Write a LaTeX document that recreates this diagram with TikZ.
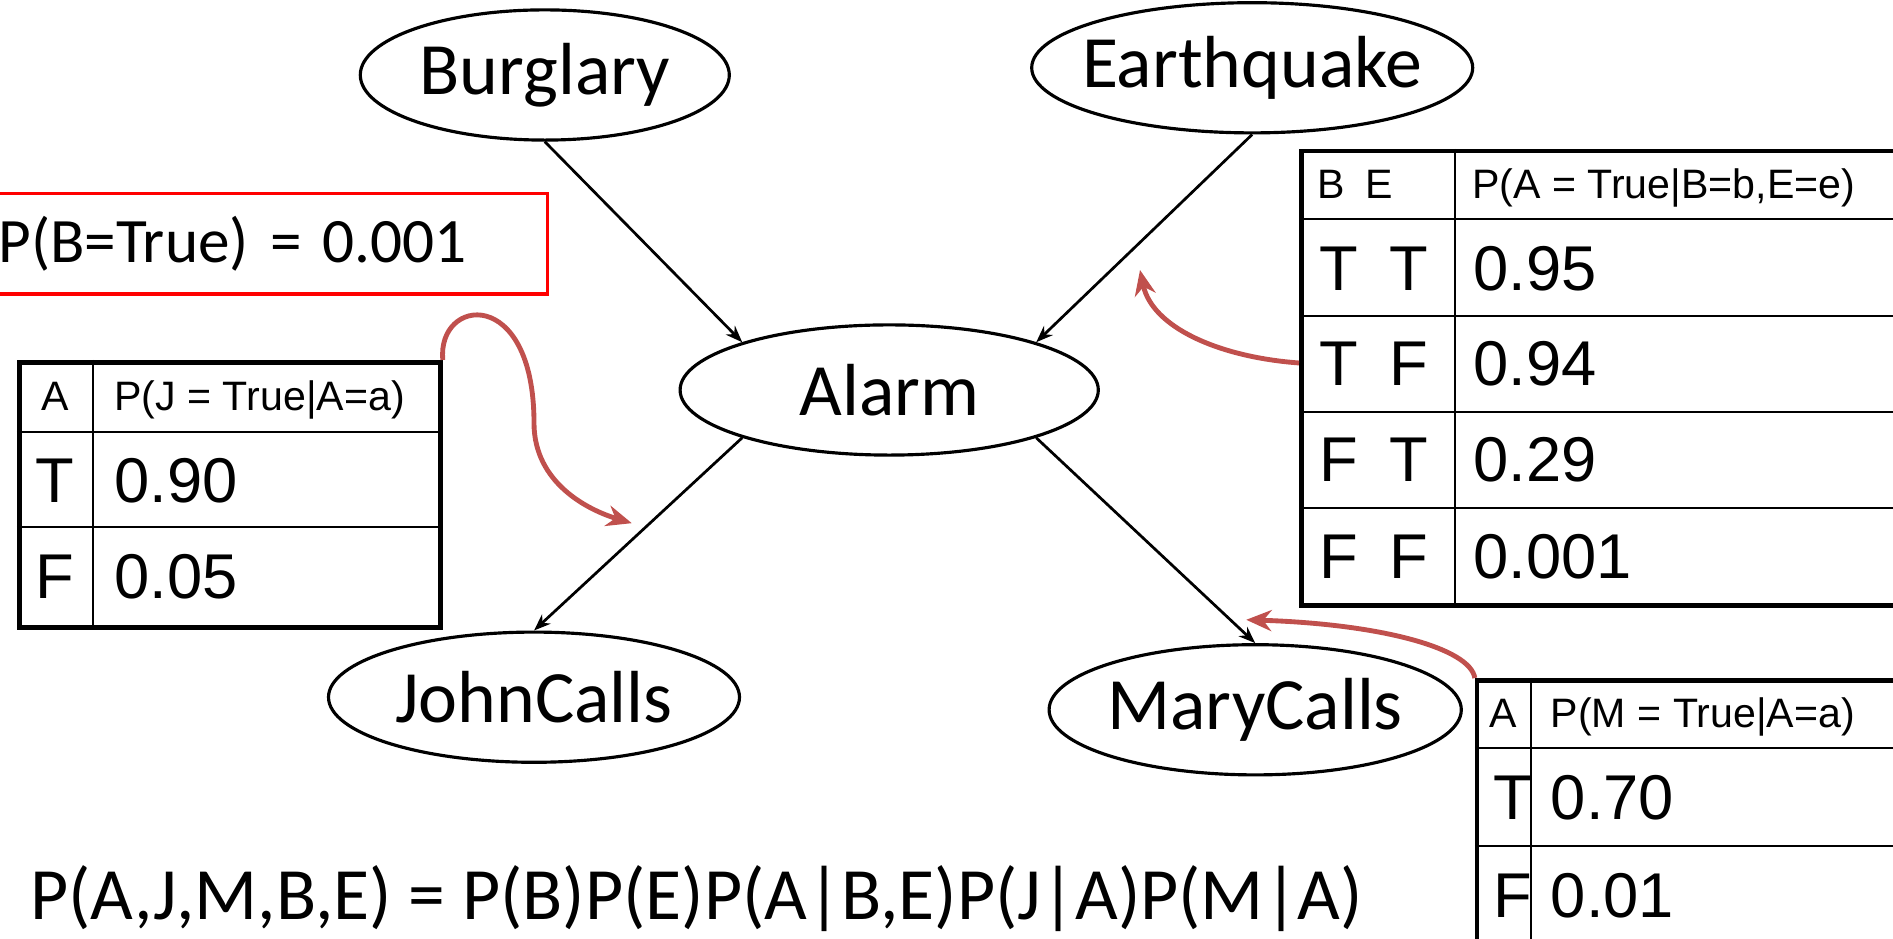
\documentclass[tikz,border=0pt]{standalone}
\usepackage{fontspec}
\setmainfont{Carlito}
\newfontfamily\tblfont{Liberation Sans}
\usepackage{tikz}
\usetikzlibrary{arrows.meta,shapes.geometric}
\definecolor{hintred}{RGB}{192,80,77}
\newcommand{\bnnode}[4]
{
  \node[bnode, minimum width=#4cm] (#1) at (#2) {\makebox[0pt]{#3}};
}
\newcommand{\tbltext}[4]
{
  \node[#3] (#1) at (#2) {#4};
}
\tikzset{
  bnode/.style={ellipse, draw, line width=1.5pt, inner sep=0pt, minimum height=2.17cm,
    font=\fontsize{35}{42}\selectfont},
  tblhead/.style={inner sep=0pt, font=\tblfont\fontsize{19.5}{23}\selectfont},
  tblval/.style={inner sep=0pt, font=\tblfont\fontsize{30}{36}\selectfont},
  tblframe/.style={draw, line width=2.2pt, inner sep=0pt, anchor=north west},
  tblrule/.style={line width=0.9pt},
  edge/.style={->, >={Stealth[length=8pt,width=6pt]}, line width=1.3pt},
  hint/.style={->, >={Stealth[length=12pt,width=10pt]}, hintred, line width=2.3pt}
}
\begin{document}
\begin{tikzpicture}[scale=1]
    \useasboundingbox (0,0) rectangle (31.55,15.65);
    \clip (0,0) rectangle (31.55,15.65);

    % network
    \bnnode{burglary}{9.08,14.4}{Burglary}{6.15}
    \bnnode{earthquake}{20.87,14.52}{Earthquake}{7.35}
    \bnnode{alarm}{14.82,9.15}{Alarm}{6.97}
    \bnnode{johncalls}{8.9,4.03}{JohnCalls}{6.85}
    \bnnode{marycalls}{20.92,3.82}{MaryCalls}{6.87}

    \draw [edge] (burglary.south) -- (alarm.162);
    \draw [edge] (earthquake.south) -- (alarm.18);
    \draw [edge] (alarm.198) -- (johncalls.north);
    \draw [edge] (alarm.-18) -- (marycalls.north);

    \node[draw=red, line width=1.6pt, anchor=east, minimum width=9.6cm, minimum height=1.67cm,
      text width=8.7cm, align=left, inner xsep=0.45cm, font=\fontsize{30}{36}\selectfont]
      (bprior) at (9.15,11.585) {P(B=True) = 0.001};

    % table for JohnCalls
    \node[tblframe, minimum width=7.02cm, minimum height=4.42cm] (jtab) at (0.283,9.65) {};
    \draw [tblrule] (1.55,9.65) -- (1.55,5.23);
    \draw [tblrule] (0.283,8.45) -- (7.3,8.45);
    \draw [tblrule] (0.283,6.87) -- (7.3,6.87);
    \tbltext{jhA}{0.92,8.8}{tblhead, anchor=base}{A}
    \tbltext{jhP}{1.9,8.8}{tblhead, anchor=base west}{P(J = True|A=a)}
    \tbltext{jT}{0.92,7.28}{tblval, anchor=base}{T}
    \tbltext{jTv}{1.9,7.28}{tblval, anchor=base west}{0.90}
    \tbltext{jF}{0.92,5.67}{tblval, anchor=base}{F}
    \tbltext{jFv}{1.9,5.67}{tblval, anchor=base west}{0.05}

    % table for Alarm
    \node[tblframe, minimum width=11cm, minimum height=7.57cm] (atab) at (21.65,13.17) {};
    \draw [tblrule] (24.25,13.17) -- (24.25,5.6);
    \draw [tblrule] (21.65,12.0) -- (32.7,12.0);
    \draw [tblrule] (21.65,10.38) -- (32.7,10.38);
    \draw [tblrule] (21.65,8.78) -- (32.7,8.78);
    \draw [tblrule] (21.65,7.18) -- (32.7,7.18);
    \tbltext{ahBE}{21.95,12.34}{tblhead, anchor=base west}{B\hspace{0.5em}E}
    \tbltext{ahP}{24.53,12.34}{tblhead, anchor=base west}{P(A = True|B=b,E=e)}
    \tbltext{aTT}{21.98,10.81}{tblval, anchor=base west}{T\hspace{0.5em}T}
    \tbltext{aTTv}{24.55,10.81}{tblval, anchor=base west}{0.95}
    \tbltext{aTF}{21.98,9.22}{tblval, anchor=base west}{T\hspace{0.5em}F}
    \tbltext{aTFv}{24.55,9.22}{tblval, anchor=base west}{0.94}
    \tbltext{aFT}{21.98,7.62}{tblval, anchor=base west}{F\hspace{0.5em}T}
    \tbltext{aFTv}{24.55,7.62}{tblval, anchor=base west}{0.29}
    \tbltext{aFF}{21.98,6.01}{tblval, anchor=base west}{F\hspace{0.5em}F}
    \tbltext{aFFv}{24.55,6.01}{tblval, anchor=base west}{0.001}

    % table for MaryCalls
    \node[tblframe, minimum width=8cm, minimum height=6cm] (mtab) at (24.58,4.35) {};
    \draw [tblrule] (25.52,4.35) -- (25.52,-1);
    \draw [tblrule] (24.58,3.18) -- (32.7,3.18);
    \draw [tblrule] (24.58,1.55) -- (32.7,1.55);
    \tbltext{mhA}{25.05,3.52}{tblhead, anchor=base}{A}
    \tbltext{mhP}{25.84,3.52}{tblhead, anchor=base west}{P(M = True|A=a)}
    \tbltext{mT}{25.22,1.99}{tblval, anchor=base}{T}
    \tbltext{mTv}{25.84,1.99}{tblval, anchor=base west}{0.70}
    \tbltext{mF}{25.22,0.35}{tblval, anchor=base}{F}
    \tbltext{mFv}{25.84,0.35}{tblval, anchor=base west}{0.01}

    % pointers from the tables
    \coordinate (jtip) at (10.53,6.93);
    \coordinate (astart) at (21.65,9.6);
    \coordinate (atip) at (19.0,11.15);
    \coordinate (mtip) at (20.77,5.32);
    \draw [hint] (jtab.north east) .. controls (7.28,10.7) and (8.9,10.9) .. (8.9,8.6)
      .. controls (8.9,7.6) and (9.8,7.15) .. (jtip);
    \draw [hint] (astart) .. controls (20.3,9.7) and (19.2,10.2) .. (atip);
    \draw [hint] (mtab.north west) .. controls (24.5,4.85) and (23.0,5.25) .. (mtip);

    \node[anchor=base west, inner sep=0pt, font=\fontsize{35}{42}\selectfont] (joint)
      at (0.5,0.32) {P(A,J,M,B,E) = P(B)P(E)P(A|B,E)P(J|A)P(M|A)};
\end{tikzpicture}
\end{document}
